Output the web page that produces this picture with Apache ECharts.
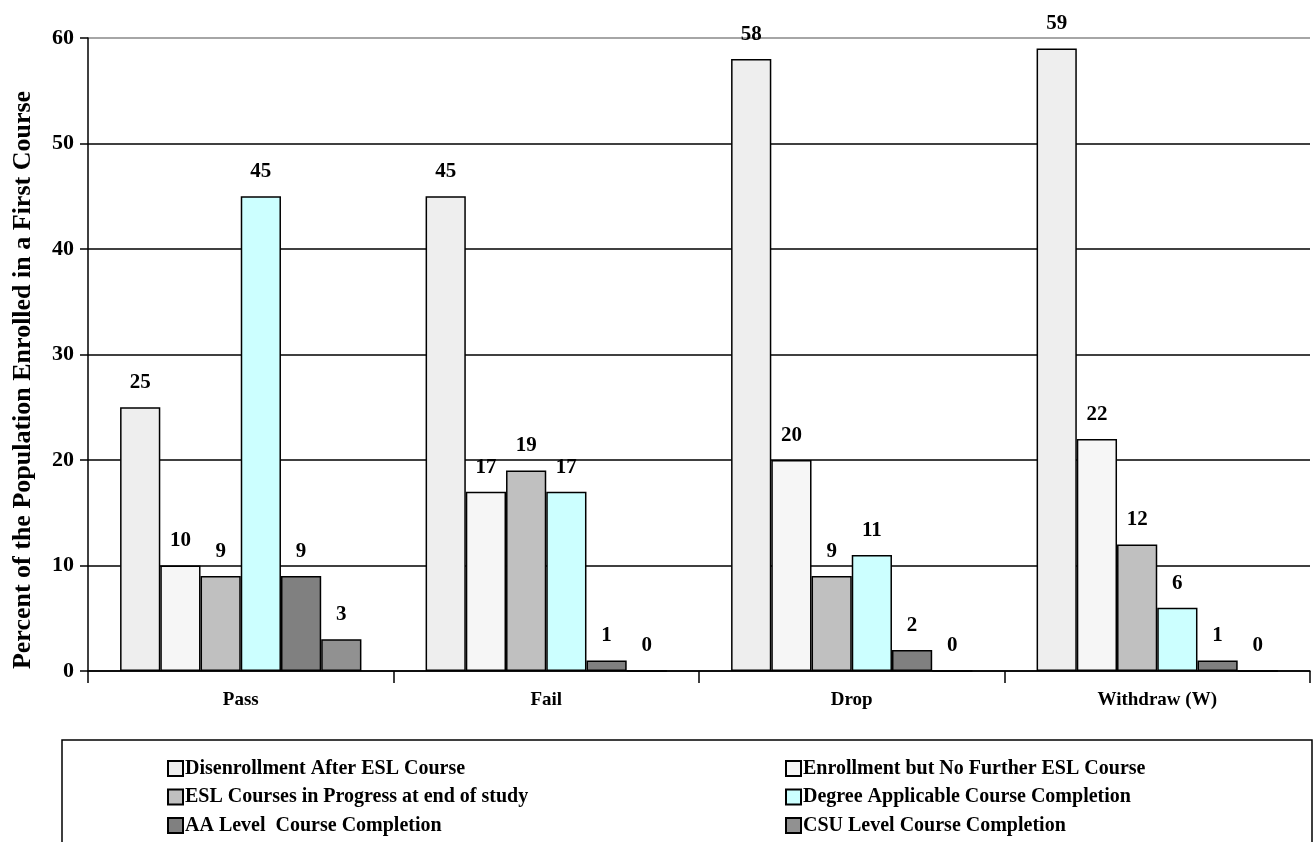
<!DOCTYPE html>
<html><head><meta charset="utf-8">
<script src="https://cdn.jsdelivr.net/npm/echarts@6/dist/echarts.min.js"></script>
<style>html,body{margin:0;padding:0;background:#fff}#c{width:1314px;height:842px}</style>
</head><body><div id="c"></div>
<script>
const categories = ['Pass', 'Fail', 'Drop', 'Withdraw (W)'];
const seriesNames = ['Disenrollment After ESL Course', 'Enrollment but No Further ESL Course', 'ESL Courses in Progress at end of study', 'Degree Applicable Course Completion', 'AA Level  Course Completion', 'CSU Level Course Completion'];
const disenrollment = [25, 45, 58, 59];
const enrollment = [10, 17, 20, 22];
const eslProgress = [9, 19, 9, 12];
const degreeApplicable = [45, 17, 11, 6];
const aaLevel = [9, 1, 2, 1];
const csuLevel = [3, 0, 0, 0];
const yTicks = [0, 10, 20, 30, 40, 50, 60];
const yTitle = 'Percent of the Population Enrolled in a First Course';

const values = [disenrollment, enrollment, eslProgress, degreeApplicable, aaLevel, csuLevel];
const colors = ['#eeeeee', '#f6f6f6', '#c0c0c0', '#ccffff', '#808080', '#919191'];
const FONT = '"Liberation Serif", "Times New Roman", serif';

const legendText = {color: '#000', fontWeight: 'bold', fontSize: 20, fontFamily: FONT, lineHeight: 20, padding: [3, 0, 0, -3]};

const chart = echarts.init(document.getElementById('c'), null, {renderer: 'canvas'});
chart.setOption({
  animation: false,
  textStyle: {fontFamily: FONT},
  grid: {left: 88, right: 4, top: 38, bottom: 171, containLabel: false},
  xAxis: {
    type: 'category', data: categories,
    axisLine: {lineStyle: {color: '#000', width: 1.5}},
    axisTick: {show: true, alignWithLabel: false, length: 12, lineStyle: {color: '#000', width: 1.5}},
    axisLabel: {margin: 20, color: '#000', fontWeight: 'bold', fontSize: 19, fontFamily: FONT},
    splitLine: {show: false}
  },
  yAxis: {
    type: 'value', min: yTicks[0], max: yTicks[yTicks.length - 1], interval: 10,
    axisLine: {show: true, lineStyle: {color: '#000', width: 1.5}},
    axisTick: {show: true, length: 8, lineStyle: {color: '#000', width: 1.5}},
    axisLabel: {margin: 14, color: '#000', fontWeight: 'bold', fontSize: 22, fontFamily: FONT},
    splitLine: {show: true, lineStyle: {color: ['#000', '#000', '#000', '#000', '#000', '#000', '#888'], width: 1.5}}
  },
  legend: [
    {
      orient: 'vertical', left: 167, top: 757, height: 100, padding: 0, icon: 'rect', itemWidth: 15, itemHeight: 15, itemGap: 5.5,
      data: [seriesNames[0], seriesNames[2], seriesNames[4]],
      textStyle: legendText, selectedMode: false
    },
    {
      orient: 'vertical', left: 785, top: 757, height: 100, padding: 0, icon: 'rect', itemWidth: 15, itemHeight: 15, itemGap: 5.5,
      data: [seriesNames[1], seriesNames[3], seriesNames[5]],
      textStyle: legendText, selectedMode: false
    }
  ],
  graphic: [
    {
      type: 'rect', shape: {x: 62, y: 740, width: 1250, height: 120},
      style: {fill: 'none', stroke: '#000', lineWidth: 1.5}, z: -1
    },
    {
      type: 'text', x: 23, y: 380, rotation: Math.PI / 2,
      style: {text: yTitle, fill: '#000', font: 'bold 26px ' + FONT, textAlign: 'center', textVerticalAlign: 'middle'}
    }
  ],
  series: values.map((v, i) => ({
    name: seriesNames[i], type: 'bar', data: v,
    barGap: '0%', barCategoryGap: '21%',
    itemStyle: {color: colors[i], borderColor: '#000', borderWidth: 1.5},
    label: {show: true, position: 'top', distance: 14, color: '#000', fontWeight: 'bold', fontSize: 21, fontFamily: FONT}
  }))
});
</script></body></html>
